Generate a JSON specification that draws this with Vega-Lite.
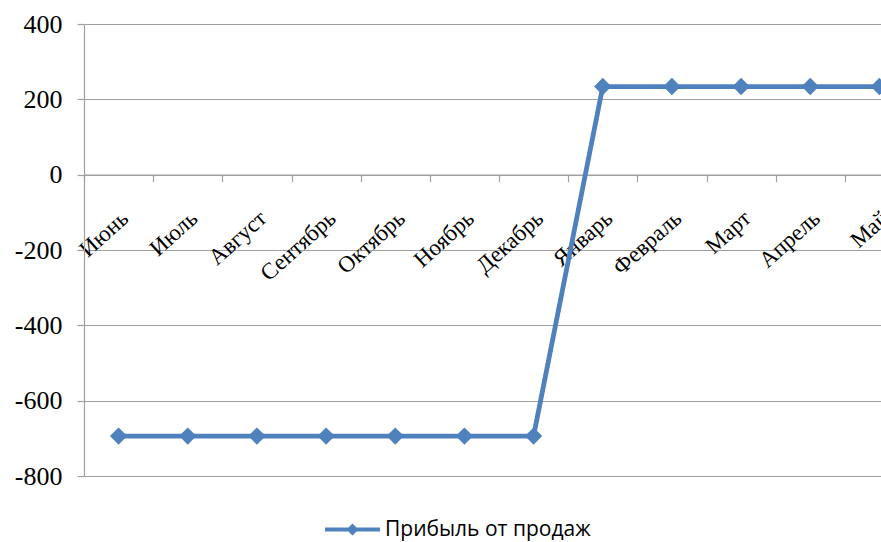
{
  "$schema": "https://vega.github.io/schema/vega-lite/v6.json",
  "autosize": "none",
  "width": 797,
  "height": 452,
  "padding": {"left": 84, "top": 24, "right": 0, "bottom": 66},
  "background": "white",
  "data": {
    "values": [
      {"month": "Июнь", "value": -694, "series": "Прибыль от продаж"},
      {"month": "Июль", "value": -694, "series": "Прибыль от продаж"},
      {"month": "Август", "value": -694, "series": "Прибыль от продаж"},
      {"month": "Сентябрь", "value": -694, "series": "Прибыль от продаж"},
      {"month": "Октябрь", "value": -694, "series": "Прибыль от продаж"},
      {"month": "Ноябрь", "value": -694, "series": "Прибыль от продаж"},
      {"month": "Декабрь", "value": -694, "series": "Прибыль от продаж"},
      {"month": "Январь", "value": 234, "series": "Прибыль от продаж"},
      {"month": "Февраль", "value": 234, "series": "Прибыль от продаж"},
      {"month": "Март", "value": 234, "series": "Прибыль от продаж"},
      {"month": "Апрель", "value": 234, "series": "Прибыль от продаж"},
      {"month": "Май", "value": 234, "series": "Прибыль от продаж"}
    ]
  },
  "config": {
    "view": {"stroke": null},
    "font": "Liberation Serif"
  },
  "mark": {
    "type": "line",
    "strokeWidth": 4.8,
    "point": {"shape": "diamond", "size": 300, "filled": true, "opacity": 1}
  },
  "encoding": {
    "x": {
      "field": "month",
      "type": "ordinal",
      "sort": null,
      "scale": {"type": "band", "paddingInner": 0, "paddingOuter": 0, "range": [0, 830]},
      "axis": {
        "title": null,
        "orient": "bottom",
        "offset": -301.33,
        "domain": true,
        "domainColor": "#a0a0a0",
        "domainWidth": 1.2,
        "tickBand": "extent",
        "tickColor": "#a0a0a0",
        "tickWidth": 1.2,
        "tickSize": 7,
        "labelAngle": -42,
        "labelAlign": "right",
        "labelBaseline": "middle",
        "labelPadding": 33,
        "labelOffset": 6,
        "labelFont": "'Liberation Serif', 'Times New Roman', serif",
        "labelFontSize": 23,
        "labelColor": "#000000",
        "labelOverlap": false,
        "labelBound": false,
        "grid": false
      }
    },
    "y": {
      "field": "value",
      "type": "quantitative",
      "scale": {"domain": [-800, 400], "nice": false, "zero": false},
      "axis": {
        "title": null,
        "values": [-800, -600, -400, -200, 0, 200, 400],
        "labelExpr": "datum.value + ''",
        "domain": true,
        "domainColor": "#a0a0a0",
        "domainWidth": 1.2,
        "grid": true,
        "gridColor": "#a0a0a0",
        "gridWidth": 1.2,
        "tickColor": "#a0a0a0",
        "tickWidth": 1.2,
        "tickSize": 7,
        "labelPadding": 15,
        "labelFont": "'Liberation Serif', 'Times New Roman', serif",
        "labelFontSize": 26,
        "labelColor": "#000000"
      }
    },
    "color": {
      "field": "series",
      "type": "nominal",
      "scale": {"range": ["#4F81BD"]},
      "legend": {
        "title": null,
        "orient": "none",
        "legendX": 241,
        "legendY": 478,
        "padding": 0,
        "symbolType": "M-1,-0.075L1,-0.075L1,0.075L-1,0.075Z M-0.22,0L0,-0.22L0.22,0L0,0.22Z",
        "symbolSize": 3025,
        "symbolStrokeWidth": 0,
        "symbolFillColor": "#4F81BD",
        "labelFont": "Open Sans",
        "labelFontSize": 21,
        "labelColor": "#000000",
        "labelOffset": 5,
        "labelLimit": 400
      }
    }
  }
}
